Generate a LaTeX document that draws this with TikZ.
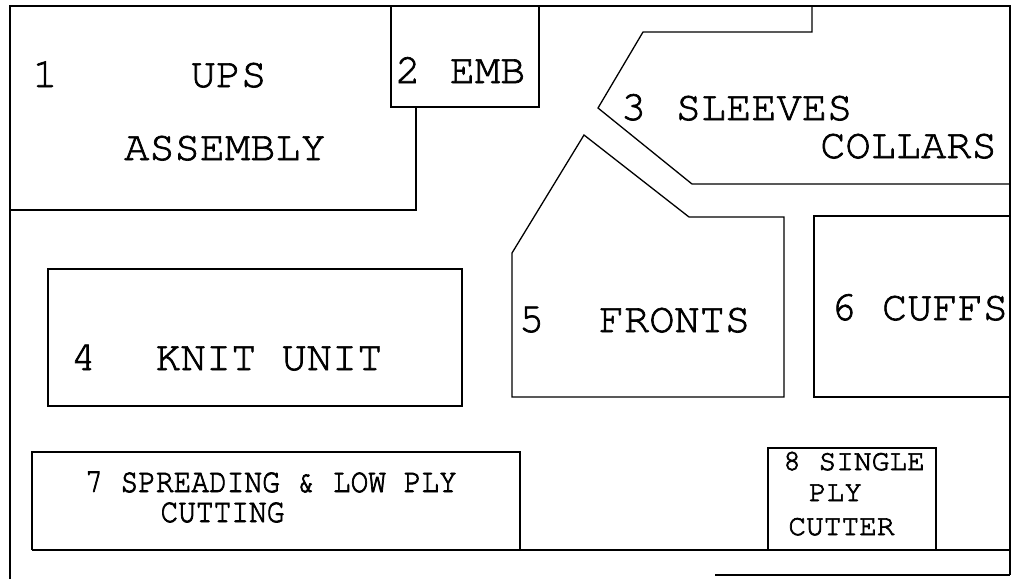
\documentclass[tikz,border=0pt]{standalone}
\usepackage[T1]{fontenc}
\usepackage{courier}
\usepackage{graphicx}
\newcommand{\inkier}[1]{\special{pdf:code 2 Tr 0.7 w}#1\special{pdf:code 0 Tr}}
\begin{document}
\begin{tikzpicture}[x=1pt,y=-1pt,
  wall/.style={draw=black, line width=1.3pt, line join=miter},
  big/.style={font=\ttfamily\fontsize{42}{42}\selectfont, inner sep=0pt, anchor=base},
  small/.style={font=\ttfamily\fontsize{29.5}{29.5}\selectfont, inner sep=0pt, anchor=base, text height=20pt, text depth=0pt}]
\useasboundingbox (0,0) rectangle (1013,579);
% outer frame
\draw[wall] (10,579) -- (10,6) -- (1010,6) -- (1010,575);
\draw[wall] (715,575) -- (1010,575);
% 1 UPS assembly
\draw[wall] (10,210) -- (416,210) -- (416,107);
% 2 EMB
\draw[wall] (391,6) -- (391,107) -- (539,107) -- (539,6);
% 3 sleeves collars
\draw[wall] (812,6) -- (812,32) -- (643,32) -- (598,108) -- (692,184) -- (1010,184);
% 5 fronts
\draw[wall] (689,217) -- (584,135) -- (512,253) -- (512,397) -- (784,397) -- (784,217) -- cycle;
% 6 cuffs
\draw[wall] (1010,216) -- (814,216) -- (814,397) -- (1010,397);
% 4 knit unit
\draw[wall] (48,269) rectangle (462,406);
% 7 spreading
\draw[wall] (32,550) -- (32,452) -- (520,452) -- (520,550);
\draw[wall] (32,550) -- (1010,550);
% 8 single ply cutter
\draw[wall] (768,550) -- (768,448) -- (936,448) -- (936,550);
% labels
\node[big] (n1) at (45,87) {\inkier{1}};
\node[big] (ups) at (228.5,87) {\inkier{UPS}};
\node[big] (assembly) at (225,160) {\inkier{ASSEMBLY}};
\node[big] (n2) at (408,83) {\inkier{2}};
\node[big] (emb) at (487.5,83) {\inkier{EMB}};
\node[big] (n3) at (633.5,120) {\inkier{3}};
\node[big] (sleeves) at (764,120) {\inkier{SLEEVES}};
\node[big] (collars) at (908.5,158) {\inkier{COLLARS}};
\node[big] (n4) at (83.5,370) {\inkier{4}};
\node[big] (knit) at (269,370) {\inkier{KNIT UNIT}};
\node[big] (n5) at (531.5,332) {\inkier{5}};
\node[big] (fronts) at (674.5,332) {\inkier{FRONTS}};
\node[big] (n6) at (843.5,320) {\inkier{6}};
\node[big] (cuffs) at (945,320) {\inkier{CUFFS}};
\node[small] (spread) at (271,492) {\smash{\scalebox{1}[1.15]{\inkier{7 SPREADING \& LOW PLY}}}};
\node[small] (cutting) at (222.5,522) {\smash{\scalebox{1}[1.15]{\inkier{CUTTING}}}};
\node[small] (single) at (854,470) {\inkier{8 SINGLE}};
\node[small] (ply) at (835.5,501) {\inkier{PLY}};
\node[small] (cutter) at (841.5,535) {\inkier{CUTTER}};
\end{tikzpicture}
\end{document}
